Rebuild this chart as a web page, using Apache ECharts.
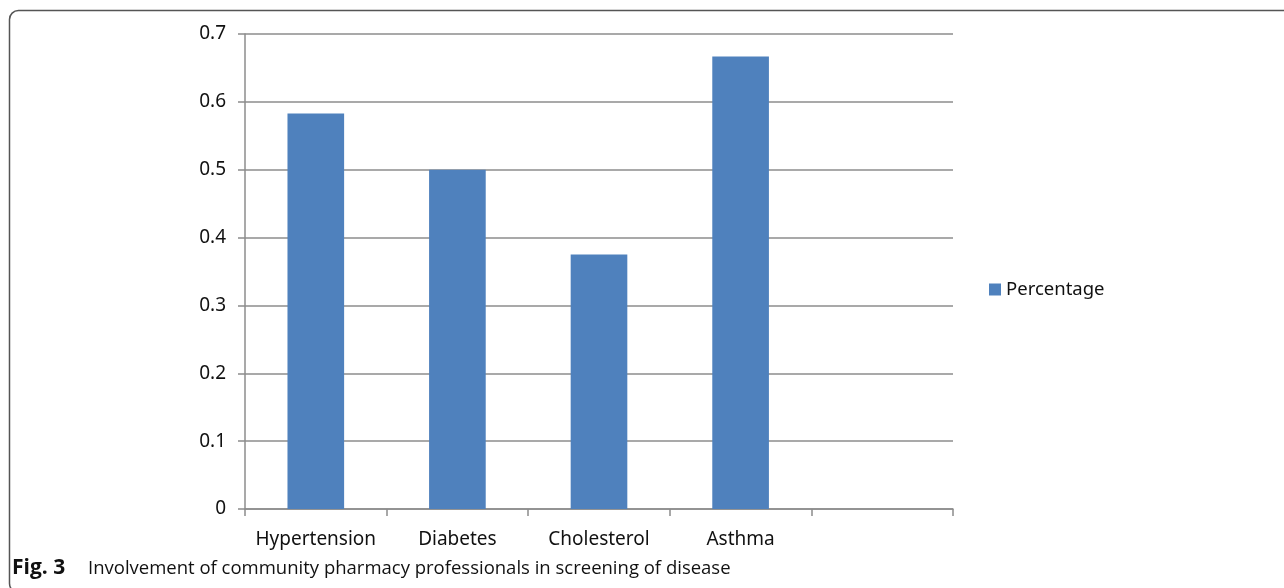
<!DOCTYPE html>
<html>
<head>
<meta charset="utf-8">
<script src="https://cdn.jsdelivr.net/npm/echarts@6/dist/echarts.min.js"></script>
<style>
html,body{margin:0;padding:0;background:#fff;}
#c{width:1284px;height:588px;}
</style>
</head>
<body>
<div id="c"></div>
<script>
const categories = ['Hypertension', 'Diabetes', 'Cholesterol', 'Asthma', ''];
const percentage = [0.583, 0.5, 0.375, 0.667, null];
const seriesName = 'Percentage';
const captionBold = 'Fig. 3';
const captionText = 'Involvement of community pharmacy professionals in screening of disease';

const chart = echarts.init(document.getElementById('c'), null, {renderer: 'canvas'});
const axisFont = 'Noto Sans';
chart.setOption({
  animation: false,
  backgroundColor: '#fff',
  grid: {left: 245, right: 331, top: 34, bottom: 79},
  legend: {
    data: [seriesName],
    left: 984, top: 275,
    itemWidth: 12, itemHeight: 12, itemGap: 6,
    icon: 'rect',
    textStyle: {fontFamily: axisFont, fontSize: 18.5, color: '#111'}
  },
  xAxis: {
    type: 'category',
    data: categories,
    boundaryGap: true,
    axisLine: {lineStyle: {color: '#8c8c8c', width: 1.5}},
    axisTick: {show: true, length: 7, alignWithLabel: false, lineStyle: {color: '#8c8c8c', width: 1.5}},
    axisLabel: {margin: 21, fontFamily: axisFont, fontSize: 19, color: '#111', interval: 0}
  },
  yAxis: {
    type: 'value',
    min: 0, max: 0.7, interval: 0.1,
    axisLine: {show: true, lineStyle: {color: '#8c8c8c', width: 1.5}},
    axisTick: {show: true, length: 7, lineStyle: {color: '#8c8c8c', width: 1.5}},
    axisLabel: {margin: 19, fontFamily: axisFont, fontSize: 19, color: '#111',
      formatter: v => (Math.round(v * 10) / 10).toString()},
    splitLine: {show: true, lineStyle: {color: '#8c8c8c', width: 1.5}}
  },
  series: [{
    name: seriesName,
    type: 'bar',
    data: percentage,
    barWidth: '40%',
    itemStyle: {color: '#4F81BD'}
  }],
  graphic: [
    {
      type: 'rect',
      shape: {x: 9.5, y: 10.5, width: 1320, height: 582, r: 9},
      style: {fill: null, stroke: '#555', lineWidth: 1.5},
      silent: true, z: 100
    },
    {
      type: 'text',
      left: 12, top: 558,
      style: {text: captionBold, fontFamily: 'Open Sans', fontWeight: 'bold', fontSize: 21, fill: '#111'},
      z: 100
    },
    {
      type: 'text',
      left: 88, top: 559,
      style: {text: captionText, fontFamily: 'Open Sans', fontSize: 18.5, fill: '#111'},
      z: 100
    }
  ]
});
</script>
</body>
</html>
